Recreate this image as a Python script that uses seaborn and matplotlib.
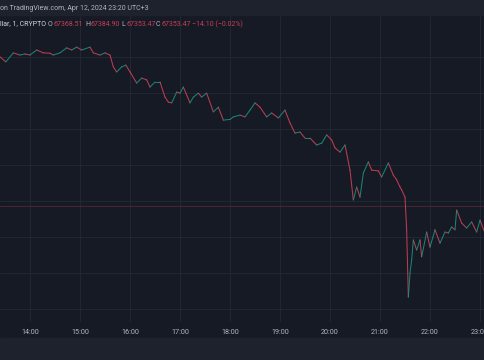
import pandas as pd
import seaborn as sns
import matplotlib.pyplot as plt
from matplotlib.patches import Rectangle

# closes, roughly every few minutes
times = ["13:24", "13:31", "13:40", "13:48", "13:54", "14:00", "14:08", "14:16", "14:24", "14:28",
         "14:36", "14:44", "14:50", "14:56", "15:02", "15:12", "15:16", "15:24", "15:30", "15:36",
         "15:40", "15:44", "15:50", "15:55", "16:00", "16:08", "16:14", "16:20", "16:24", "16:30",
         "16:36", "16:42", "16:46", "16:50", "16:56", "17:00", "17:04", "17:12", "17:16", "17:22",
         "17:26", "17:32", "17:40", "17:46", "17:52", "18:00", "18:04", "18:12", "18:18", "18:24",
         "18:30", "18:36", "18:44", "18:50", "18:58", "19:06", "19:12", "19:18", "19:24", "19:30",
         "19:36", "19:44", "19:50", "19:56", "20:02", "20:06", "20:12", "20:18", "20:24", "20:28",
         "20:32", "20:36", "20:40", "20:46", "20:50", "20:58", "21:02", "21:10", "21:16", "21:20",
         "21:24", "21:26", "21:30", "21:32", "21:34", "21:36", "21:38", "21:40", "21:44", "21:48",
         "21:50", "21:56", "22:00", "22:06", "22:12", "22:18", "22:22", "22:26", "22:30", "22:32",
         "22:38", "22:44", "22:50", "22:56", "23:00", "23:06", "23:12", "23:20"]
prices = [71500, 71360, 71610, 71550, 71580, 71550, 71690, 71610, 71600, 71550,
          71610, 71750, 71690, 71770, 71690, 71770, 71610, 71550, 71610, 71550,
          71220, 71080, 71220, 71270, 71080, 70770, 70910, 70860, 70660, 70800,
          70800, 70380, 70240, 70220, 70520, 70490, 70660, 70220, 70380, 70490,
          70380, 70490, 69970, 70100, 69740, 69760, 69830, 69880, 69830, 70020,
          70220, 70100, 69830, 69940, 69800, 70020, 69660, 69380, 69410, 69240,
          69240, 69050, 69100, 69330, 69190, 68970, 68850, 69050, 68350, 67520,
          67880, 67600, 68270, 68580, 68350, 68330, 68160, 68550, 68210, 68080,
          67880, 67800, 67600, 66690, 64820, 65490, 65850, 66410, 66130, 66410,
          65940, 66630, 66210, 66690, 66320, 66630, 66600, 66770, 66690, 67240,
          66880, 66740, 66910, 66630, 66960, 66600, 67000, 67353.47]
hour_ticks = ["14:00", "15:00", "16:00", "17:00", "18:00", "19:00", "20:00", "21:00", "22:00", "23:00"]
price_grid = [64500, 65500, 66500, 67500, 68500, 69500, 70500, 71500]
last_close = 67353.47
day = "2024-04-12 "

header = "on TradingView.com, Apr 12, 2024 23:20 UTC+3"
symbol = "llar, 1, CRYPTO"
ohlc_keys = ["O", "H", "L", "C"]
ohlc_vals = ["67368.51", "67384.90", "67353.47", "67353.47"]
change = "\u221214.10 (\u22120.02%)"

BG = '#161a25'
PANEL = '#1e222d'
GRID = '#222633'
UP = '#1b9582'
DOWN = '#d8435a'
TXT = '#b2b5be'

sns.set_theme(style='dark', rc={'axes.facecolor': BG, 'figure.facecolor': BG})
plt.rcParams['font.family'] = ['Roboto', 'DejaVu Sans']

ts = pd.to_datetime([day + t for t in times])
rows = []
for i in range(len(ts) - 1):
    d = 'up' if prices[i + 1] >= prices[i] else 'down'
    rows.append((ts[i], prices[i], d, i))
    rows.append((ts[i + 1], prices[i + 1], d, i))
df = pd.DataFrame(rows, columns=['time', 'price', 'dir', 'seg'])

fig = plt.figure(figsize=(4.85, 3.6), dpi=100)
ax = fig.add_axes([0, 38 / 360, 1, 307 / 360])
sns.lineplot(data=df, x='time', y='price', hue='dir', units='seg', estimator=None, sort=False,
             palette={'up': UP, 'down': DOWN}, legend=False, lw=0.75, alpha=0.85, ax=ax)
ax.axhline(last_close, color=DOWN, alpha=0.3, lw=0.6)

ax.set_xlim(pd.Timestamp(day + "13:24"), pd.Timestamp(day + "23:06"))
ax.set_ylim(64128, 72663)
ax.set_xticks(pd.to_datetime([day + h for h in hour_ticks]))
ax.set_xticklabels(hour_ticks)
ax.set_yticks(price_grid)
ax.tick_params(axis='x', length=0, pad=5, labelsize=5.2, labelcolor=TXT)
ax.tick_params(axis='y', length=0, labelleft=False)
ax.grid(True, color=GRID, lw=0.8)
ax.set_xlabel('')
ax.set_ylabel('')
for s in ax.spines.values():
    s.set_visible(False)

fig.add_artist(Rectangle((0, 345 / 360), 1, 15 / 360, transform=fig.transFigure, color=PANEL))
fig.add_artist(Rectangle((0, 0), 1, 22 / 360, transform=fig.transFigure, color=PANEL))

fig.text(0, 1 - 8 / 360, header, va='center', ha='left', fontsize=5.0, color=TXT)
y2 = 1 - 24 / 360
fig.text(0, y2, symbol, va='center', ha='left', fontsize=5.0, color='#d1d4dc')
for k, v, x in zip(ohlc_keys, ohlc_vals, [48, 85, 121, 156]):
    fig.text(x / 485, y2, k, va='center', ha='left', fontsize=5.0, color=TXT)
    fig.text((x + 5.5) / 485, y2, v, va='center', ha='left', fontsize=5.0, color=DOWN, alpha=0.9)
fig.text(192 / 485, y2, change, va='center', ha='left', fontsize=5.0, color=DOWN, alpha=0.9)

fig.savefig('out.png', dpi=100, facecolor=BG)
